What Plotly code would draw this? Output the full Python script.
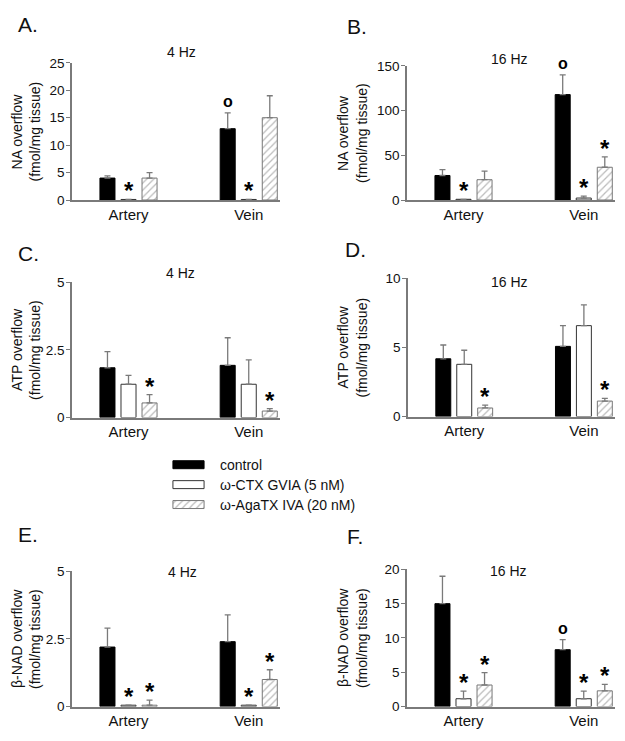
import plotly.graph_objects as go

# ---------------- data ----------------
groups = ["Artery", "Vein"]
series = ["control", "ω-CTX GVIA (5 nM)", "ω-AgaTX IVA (20 nM)"]

# rows: control, CTX, AgaTX ; columns: Artery, Vein
na_4hz_mean = [[4.0, 13.0], [0.1, 0.1], [4.0, 15.0]]
na_4hz_sem = [[0.4, 2.9], [0.0, 0.0], [1.0, 4.0]]
na_4hz_sig = [["", "o"], ["*", "*"], ["", ""]]

na_16hz_mean = [[27.4, 117.8], [0.8, 2.2], [22.7, 36.6]]
na_16hz_sem = [[6.6, 22.0], [0.0, 2.2], [9.5, 11.7]]
na_16hz_sig = [["", "o"], ["*", "*"], ["", "*"]]

atp_4hz_mean = [[1.84, 1.93], [1.23, 1.23], [0.54, 0.24]]
atp_4hz_sem = [[0.60, 1.02], [0.33, 0.90], [0.31, 0.09]]
atp_4hz_sig = [["", ""], ["", ""], ["*", "*"]]

atp_16hz_mean = [[4.18, 5.08], [3.78, 6.58], [0.62, 1.12]]
atp_16hz_sem = [[1.00, 1.50], [1.02, 1.50], [0.21, 0.19]]
atp_16hz_sig = [["", ""], ["", ""], ["*", "*"]]

nad_4hz_mean = [[2.2, 2.4], [0.05, 0.05], [0.05, 1.0]]
nad_4hz_sem = [[0.70, 0.99], [0.0, 0.0], [0.19, 0.36]]
nad_4hz_sig = [["", ""], ["*", "*"], ["*", "*"]]

nad_16hz_mean = [[15.0, 8.29], [1.14, 1.14], [3.14, 2.29]]
nad_16hz_sem = [[4.0, 1.47], [1.1, 1.1], [1.81, 0.95]]
nad_16hz_sig = [["", "o"], ["*", "*"], ["*", "*"]]

# ---------------- layout helpers ----------------
W, H = 625, 741
FONT = "Liberation Sans, Arial, sans-serif"
AXC = "#7a7a7a"
TXT = "#111111"


def fx(p):
    return p / W


def fy(p):
    return 1 - p / H


panels = [
    dict(letter="A.", title="4 Hz", ytitle=["NA overflow", "(fmol/mg tissue)"],
         mean=na_4hz_mean, sem=na_4hz_sem, sig=na_4hz_sig,
         yrange=[0, 25], ticks=[0, 5, 10, 15, 20, 25],
         box=(72, 280, 57, 197), title_xy=(181, 46), letter_xy=(16, 18),
         ytx=(17, 35)),
    dict(letter="B.", title="16 Hz", ytitle=["NA overflow", "(fmol/mg tissue)"],
         mean=na_16hz_mean, sem=na_16hz_sem, sig=na_16hz_sig,
         yrange=[0, 150], ticks=[0, 50, 100, 150],
         box=(407, 615, 60, 197), title_xy=(509, 53), letter_xy=(345, 20),
         ytx=(343, 362)),
    dict(letter="C.", title="4 Hz", ytitle=["ATP overflow", "(fmol/mg tissue)"],
         mean=atp_4hz_mean, sem=atp_4hz_sem, sig=atp_4hz_sig,
         yrange=[0, 5], ticks=[0, 2.5, 5],
         box=(72, 280, 281, 419), title_xy=(180, 271), letter_xy=(16, 252),
         ytx=(17, 35)),
    dict(letter="D.", title="16 Hz", ytitle=["ATP overflow", "(fmol/mg tissue)"],
         mean=atp_16hz_mean, sem=atp_16hz_sem, sig=atp_16hz_sig,
         yrange=[0, 10], ticks=[0, 5, 10],
         box=(408, 615, 277, 418), title_xy=(510, 281), letter_xy=(343, 248),
         ytx=(343, 362)),
    dict(letter="E.", title="4 Hz", ytitle=["β-NAD overflow", "(fmol/mg tissue)"],
         mean=nad_4hz_mean, sem=nad_4hz_sem, sig=nad_4hz_sig,
         yrange=[0, 5], ticks=[0, 2.5, 5],
         box=(72, 280, 576, 714), title_xy=(182, 577), letter_xy=(16, 538),
         ytx=(17, 35)),
    dict(letter="F.", title="16 Hz", ytitle=["β-NAD overflow", "(fmol/mg tissue)"],
         mean=nad_16hz_mean, sem=nad_16hz_sem, sig=nad_16hz_sig,
         yrange=[0, 20], ticks=[0, 5, 10, 15, 20],
         box=(407, 615, 574, 714), title_xy=(508, 576), letter_xy=(345, 540),
         ytx=(343, 362)),
]

offsets = [-0.175, 0.0, 0.175]
bar_width = 0.125


def style(i):
    if i == 0:
        return dict(color="black", line=dict(color="black", width=1))
    if i == 1:
        return dict(color="white", line=dict(color="#333333", width=1))
    return dict(color="white", line=dict(color="#777777", width=1),
                pattern=dict(shape="/", fgcolor="#777777", bgcolor="white",
                             size=5, solidity=0.25))


fig = go.Figure()
annotations = []
layout = {}

for k, p in enumerate(panels, start=1):
    xa, ya = f"x{k}", f"y{k}"
    for i, s in enumerate(series):
        xs = [g + offsets[i] for g in range(len(groups))]
        fig.add_trace(go.Bar(
            x=xs, y=p["mean"][i], width=bar_width, name=s, showlegend=False,
            marker=style(i), xaxis=xa, yaxis=ya,
            error_y=dict(type="data", symmetric=False, array=p["sem"][i],
                         arrayminus=[0] * len(groups), color=AXC,
                         thickness=1.3, width=3),
        ))
        for g in range(len(groups)):
            mark = p["sig"][i][g]
            if not mark:
                continue
            top = p["mean"][i][g] + p["sem"][i][g]
            if mark == "*":
                annotations.append(dict(
                    x=g + offsets[i], y=top, xref=xa, yref=ya, text="<b>*</b>",
                    showarrow=False, yanchor="bottom", yshift=-7,
                    font=dict(family=FONT, size=24, color="black")))
            else:
                annotations.append(dict(
                    x=g + offsets[i], y=top, xref=xa, yref=ya, text="<b>o</b>",
                    showarrow=False, yanchor="bottom", yshift=1,
                    font=dict(family=FONT, size=16, color="black")))

    x0, x1, y0, y1 = p["box"]
    layout[f"xaxis{k}"] = dict(
        domain=[fx(x0), fx(x1)], anchor=ya, range=[-0.47, 1.26],
        tickvals=list(range(len(groups))), ticktext=groups, ticks="",
        showline=True, linecolor=AXC, linewidth=1.5, showgrid=False,
        zeroline=False, tickfont=dict(family=FONT, size=15, color=TXT),
        fixedrange=True)
    layout[f"yaxis{k}"] = dict(
        domain=[fy(y1), fy(y0)], anchor=xa, range=p["yrange"],
        tickvals=p["ticks"], ticks="outside", ticklen=4, tickcolor=AXC,
        tickwidth=1.3, showline=True, linecolor=AXC, linewidth=1.5,
        showgrid=False, zeroline=False, ticklabelstandoff=-1,
        tickfont=dict(family=FONT, size=13.5, color=TXT), fixedrange=True)

    annotations.append(dict(
        x=fx(p["title_xy"][0]), y=fy(p["title_xy"][1]), xref="paper",
        yref="paper", text=p["title"], showarrow=False, xanchor="center",
        yanchor="middle", font=dict(family=FONT, size=14, color=TXT)))
    annotations.append(dict(
        x=fx(p["letter_xy"][0]), y=fy(p["letter_xy"][1]), xref="paper",
        yref="paper", text=p["letter"], showarrow=False, xanchor="left",
        yanchor="middle", font=dict(family=FONT, size=21, color=TXT)))
    for line, lx in zip(p["ytitle"], p["ytx"]):
        annotations.append(dict(
            x=fx(lx), y=fy((y0 + y1) / 2), xref="paper", yref="paper",
            text=line, showarrow=False, textangle=-90, xanchor="center",
            yanchor="middle", font=dict(family=FONT, size=14, color=TXT)))

# legend drawn with a helper axis
kL = len(panels) + 1
for i, s in enumerate(series):
    fig.add_trace(go.Bar(
        x=[1], y=[i], orientation="h", width=0.4, marker=style(i),
        showlegend=False, xaxis=f"x{kL}", yaxis=f"y{kL}", hoverinfo="skip"))
    annotations.append(dict(
        x=fx(218), y=i, xref="paper", yref=f"y{kL}", text=s, showarrow=False,
        xanchor="left", yanchor="middle",
        font=dict(family=FONT, size=14, color=TXT)))

layout[f"xaxis{kL}"] = dict(domain=[fx(172), fx(205)], anchor=f"y{kL}",
                            range=[-0.03, 1.03], visible=False, fixedrange=True)
layout[f"yaxis{kL}"] = dict(domain=[fy(518), fy(457)], anchor=f"x{kL}",
                            range=[2.5, -0.5], visible=False, fixedrange=True)

fig.update_layout(
    width=W, height=H, margin=dict(l=0, r=0, t=0, b=0),
    paper_bgcolor="white", plot_bgcolor="white", barmode="overlay",
    annotations=annotations, font=dict(family=FONT), **layout)

fig.write_html("out.html", config={"displayModeBar": False},
               post_script="document.body.style.margin='0px';document.body.style.overflow='hidden';")
